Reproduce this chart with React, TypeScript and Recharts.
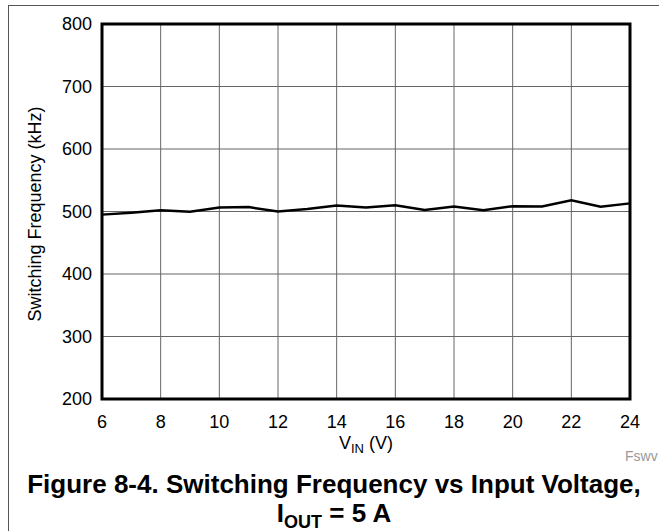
import { LineChart, Line, XAxis, YAxis, CartesianGrid, ReferenceArea } from 'recharts';

// input voltage (V) and switching frequency (kHz)
const vin = [6, 7, 8, 9, 10, 11, 12, 13, 14, 15, 16, 17, 18, 19, 20, 21, 22, 23, 24];
const fsw = [495, 498, 502, 499.5, 506.5, 507, 500, 504, 509.5, 506.5, 510, 502.5, 508, 502, 508.5, 508, 518, 507.5, 513];

const xTicks = [6, 8, 10, 12, 14, 16, 18, 20, 22, 24];
const yTicks = [200, 300, 400, 500, 600, 700, 800];

const font = '"Liberation Sans", Arial, Helvetica, sans-serif';

const data = vin.map((v, i) => ({ vin: v, fsw: fsw[i] }));

export default function App() {
  return (
    <div style={{ position: 'absolute', left: 0, top: 0, width: 659, height: 531, background: '#fff', overflow: 'hidden', fontFamily: font, color: '#000' }}>
      {/* page frame */}
      <div style={{ position: 'absolute', left: 8, top: 5, width: 660, height: 540, borderTop: '1px solid #555', borderLeft: '1px solid #555' }} />

      <LineChart
        width={659}
        height={531}
        data={data}
        margin={{ top: 24, right: 29, left: 2, bottom: 0 }}
        style={{ position: 'absolute', left: 0, top: 0 }}
      >
        <CartesianGrid stroke="#666" strokeWidth={1} />
        <XAxis
          dataKey="vin"
          type="number"
          domain={[6, 24]}
          ticks={xTicks}
          interval={0}
          height={132}
          tickLine={false}
          axisLine={false}
          tickMargin={10}
          tick={{ fill: '#000', fontSize: 18, fontFamily: font }}
        />
        <YAxis
          type="number"
          domain={[200, 800]}
          ticks={yTicks}
          interval={0}
          width={100}
          tickLine={false}
          axisLine={false}
          tickMargin={4}
          tick={{ fill: '#000', fontSize: 18, fontFamily: font }}
        />
        <Line
          type="linear"
          dataKey="fsw"
          stroke="#000"
          strokeWidth={2.5}
          dot={false}
          activeDot={false}
          isAnimationActive={false}
        />
        <ReferenceArea x1={6} x2={24} y1={200} y2={800} fill="none" stroke="#000" strokeWidth={3} ifOverflow="visible" />
      </LineChart>

      {/* y axis title */}
      <div style={{ position: 'absolute', left: -115, top: 204, width: 300, height: 20, lineHeight: '20px', fontSize: 18, textAlign: 'center', transform: 'rotate(-90deg)', whiteSpace: 'nowrap' }}>
        Switching Frequency (kHz)
      </div>

      {/* x axis title */}
      <div style={{ position: 'absolute', left: 102, top: 434, width: 528, lineHeight: '18px', fontSize: 18, textAlign: 'center', whiteSpace: 'nowrap' }}>
        V<sub style={{ fontSize: 13, lineHeight: 0, verticalAlign: -4 }}>IN</sub> (V)
      </div>

      <div style={{ position: 'absolute', left: 625, top: 449, lineHeight: '14px', fontSize: 14, color: '#999', whiteSpace: 'nowrap' }}>
        Fswv
      </div>

      {/* caption */}
      <div style={{ position: 'absolute', left: 9, top: 471, width: 650, lineHeight: '26px', fontSize: 26, fontWeight: 700, textAlign: 'center', whiteSpace: 'nowrap' }}>
        Figure 8-4. Switching Frequency vs Input Voltage,
      </div>
      <div style={{ position: 'absolute', left: 9, top: 500, width: 650, lineHeight: '26px', fontSize: 26, fontWeight: 700, textAlign: 'center', whiteSpace: 'nowrap' }}>
        I<sub style={{ fontSize: 18, lineHeight: 0, verticalAlign: -6 }}>OUT</sub> = 5 A
      </div>
    </div>
  );
}
